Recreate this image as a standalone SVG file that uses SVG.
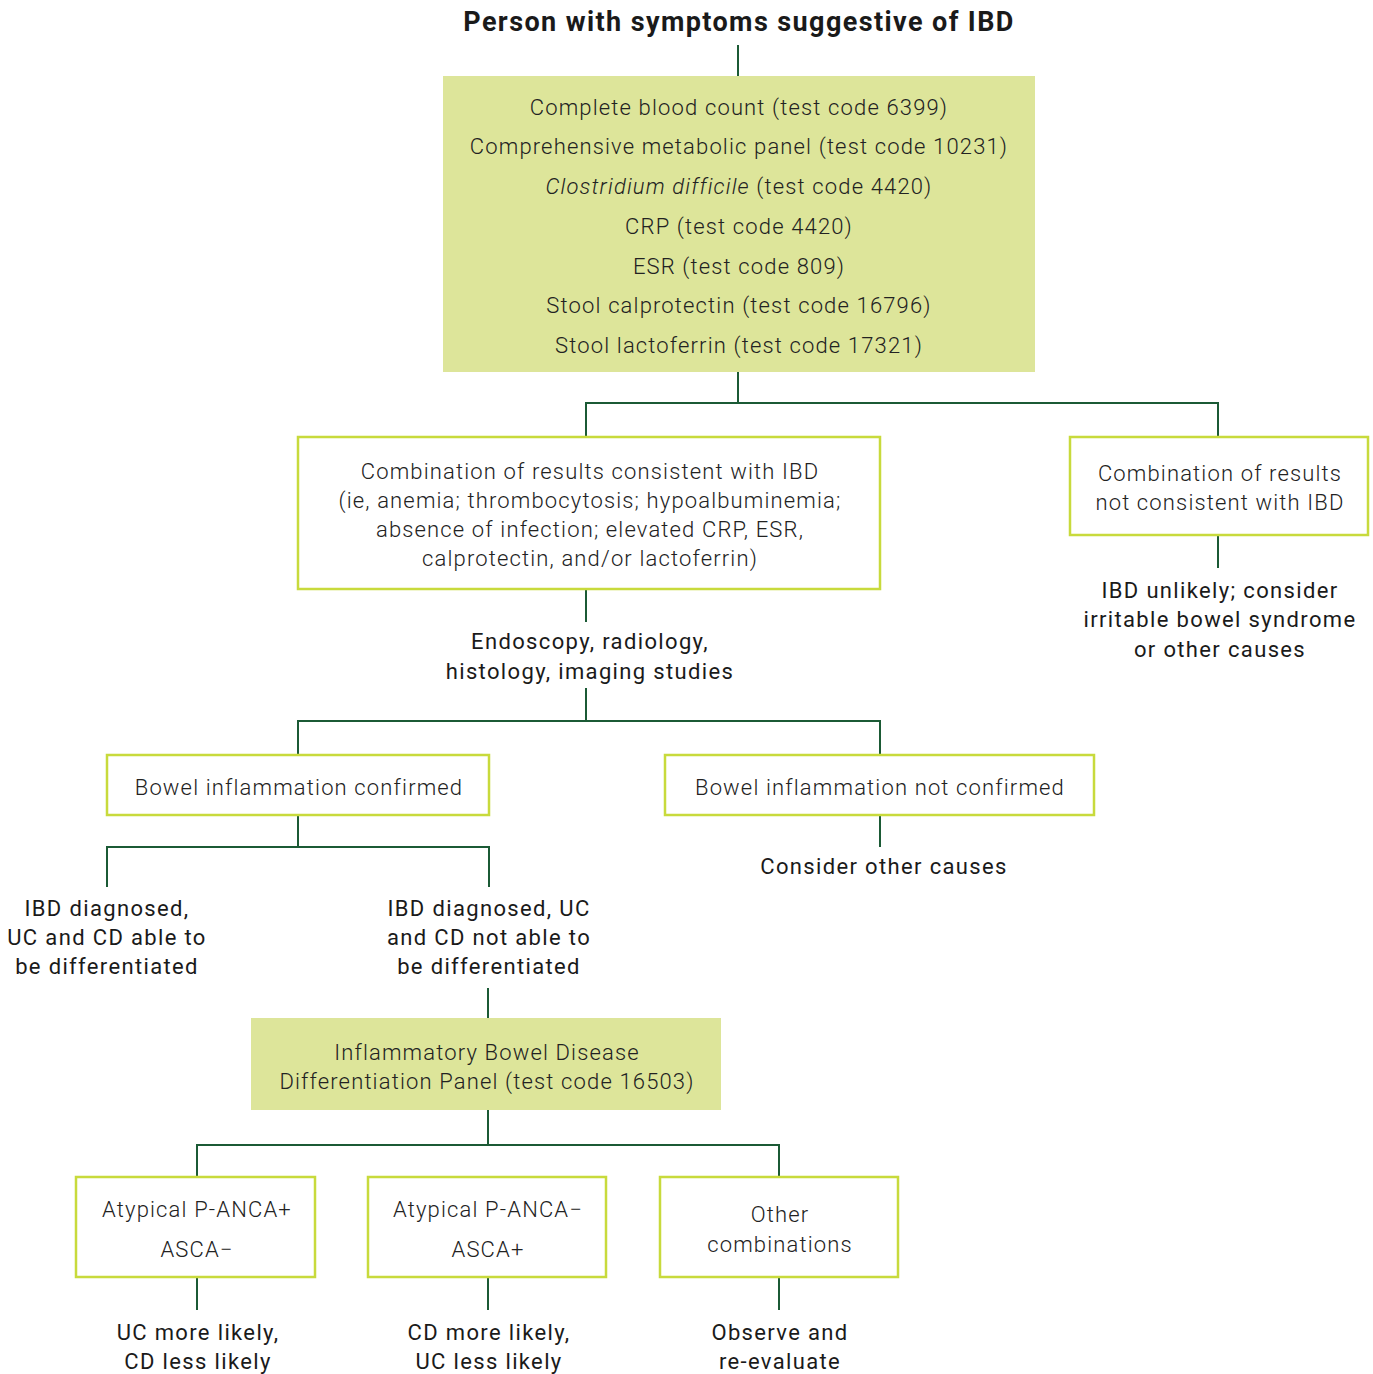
<svg xmlns="http://www.w3.org/2000/svg" width="1373" height="1374" viewBox="0 0 1373 1374">
<style>
text{font-family:Roboto,"Liberation Sans",sans-serif;text-anchor:middle;dominant-baseline:central;fill:#1a1a1a}
.t{font-size:27px;font-weight:700;letter-spacing:1.4px}
.b{font-size:22px;font-weight:300;fill:#222;letter-spacing:1.15px}
.l{font-size:22px;font-weight:400;letter-spacing:1.35px}
.box{fill:#fff;stroke:#c8da3c;stroke-width:2.5}
.fill{fill:#dde59a;stroke:none}
.c{fill:none;stroke:#1b5a35;stroke-width:2}
</style>
<rect width="1373" height="1374" fill="#fff"/>
<g id="connectors">
<path class="c" d="M738 45V76"/>
<path class="c" d="M738 372V403M586 437V403H1218V437"/>
<path class="c" d="M1218 535V568"/>
<path class="c" d="M586 589V622"/>
<path class="c" d="M586 688V721M298 755V721H880V755"/>
<path class="c" d="M880 815V847"/>
<path class="c" d="M298 815V847M107 887V847H489V887"/>
<path class="c" d="M488 988V1018"/>
<path class="c" d="M488 1110V1145M197 1177V1145H779V1177"/>
<path class="c" d="M197 1277V1310M488 1277V1310M779 1277V1310"/>
</g>
<g id="title"><text class="t" x="739" y="22">Person with symptoms suggestive of IBD</text></g>
<g id="tests">
<rect class="fill" x="443" y="76" width="592" height="296"/>
<text class="b" x="739" y="107">Complete blood count (test code 6399)</text>
<text class="b" x="739" y="146">Comprehensive metabolic panel (test code 10231)</text>
<text class="b" x="739" y="186"><tspan font-style="italic">Clostridium difficile</tspan> (test code 4420)</text>
<text class="b" x="739" y="226">CRP (test code 4420)</text>
<text class="b" x="739" y="266">ESR (test code 809)</text>
<text class="b" x="739" y="305">Stool calprotectin (test code 16796)</text>
<text class="b" x="739" y="345">Stool lactoferrin (test code 17321)</text>
</g>
<g id="consistent">
<rect class="box" x="298" y="437" width="582" height="152"/>
<text class="b" x="590" y="471">Combination of results consistent with IBD</text>
<text class="b" x="590" y="500">(ie, anemia; thrombocytosis; hypoalbuminemia;</text>
<text class="b" x="590" y="529">absence of infection; elevated CRP, ESR,</text>
<text class="b" x="590" y="558">calprotectin, and/or lactoferrin)</text>
</g>
<g id="notconsistent">
<rect class="box" x="1070" y="437" width="298" height="98"/>
<text class="b" x="1220" y="473">Combination of results</text>
<text class="b" x="1220" y="502">not consistent with IBD</text>
</g>
<g id="ibdunlikely">
<text class="l" x="1220" y="590">IBD unlikely; consider</text>
<text class="l" x="1220" y="619">irritable bowel syndrome</text>
<text class="l" x="1220" y="649">or other causes</text>
</g>
<g id="endoscopy">
<text class="l" x="590" y="641">Endoscopy, radiology,</text>
<text class="l" x="590" y="671">histology, imaging studies</text>
</g>
<g id="confirmed">
<rect class="box" x="107" y="755" width="382" height="60"/>
<text class="b" x="299" y="787">Bowel inflammation confirmed</text>
</g>
<g id="notconfirmed">
<rect class="box" x="665" y="755" width="429" height="60"/>
<text class="b" x="880" y="787">Bowel inflammation not confirmed</text>
</g>
<g id="otherc"><text class="l" x="884" y="866">Consider other causes</text></g>
<g id="diffable">
<text class="l" x="107" y="908">IBD diagnosed,</text>
<text class="l" x="107" y="937">UC and CD able to</text>
<text class="l" x="107" y="966">be differentiated</text>
</g>
<g id="diffnot">
<text class="l" x="489" y="908">IBD diagnosed, UC</text>
<text class="l" x="489" y="937">and CD not able to</text>
<text class="l" x="489" y="966">be differentiated</text>
</g>
<g id="panel">
<rect class="fill" x="251" y="1018" width="470" height="92"/>
<text class="b" x="487" y="1052">Inflammatory Bowel Disease</text>
<text class="b" x="487" y="1081">Differentiation Panel (test code 16503)</text>
</g>
<g id="boxA">
<rect class="box" x="76" y="1177" width="239" height="100"/>
<text class="b" x="197" y="1209">Atypical P-ANCA+</text>
<text class="b" x="197" y="1249">ASCA−</text>
</g>
<g id="boxB">
<rect class="box" x="368" y="1177" width="238" height="100"/>
<text class="b" x="488" y="1209">Atypical P-ANCA−</text>
<text class="b" x="488" y="1249">ASCA+</text>
</g>
<g id="boxC">
<rect class="box" x="660" y="1177" width="238" height="100"/>
<text class="b" x="780" y="1214">Other</text>
<text class="b" x="780" y="1244">combinations</text>
</g>
<g id="resA">
<text class="l" x="198" y="1332">UC more likely,</text>
<text class="l" x="198" y="1361">CD less likely</text>
</g>
<g id="resB">
<text class="l" x="489" y="1332">CD more likely,</text>
<text class="l" x="489" y="1361">UC less likely</text>
</g>
<g id="resC">
<text class="l" x="780" y="1332">Observe and</text>
<text class="l" x="780" y="1361">re-evaluate</text>
</g>
</svg>
